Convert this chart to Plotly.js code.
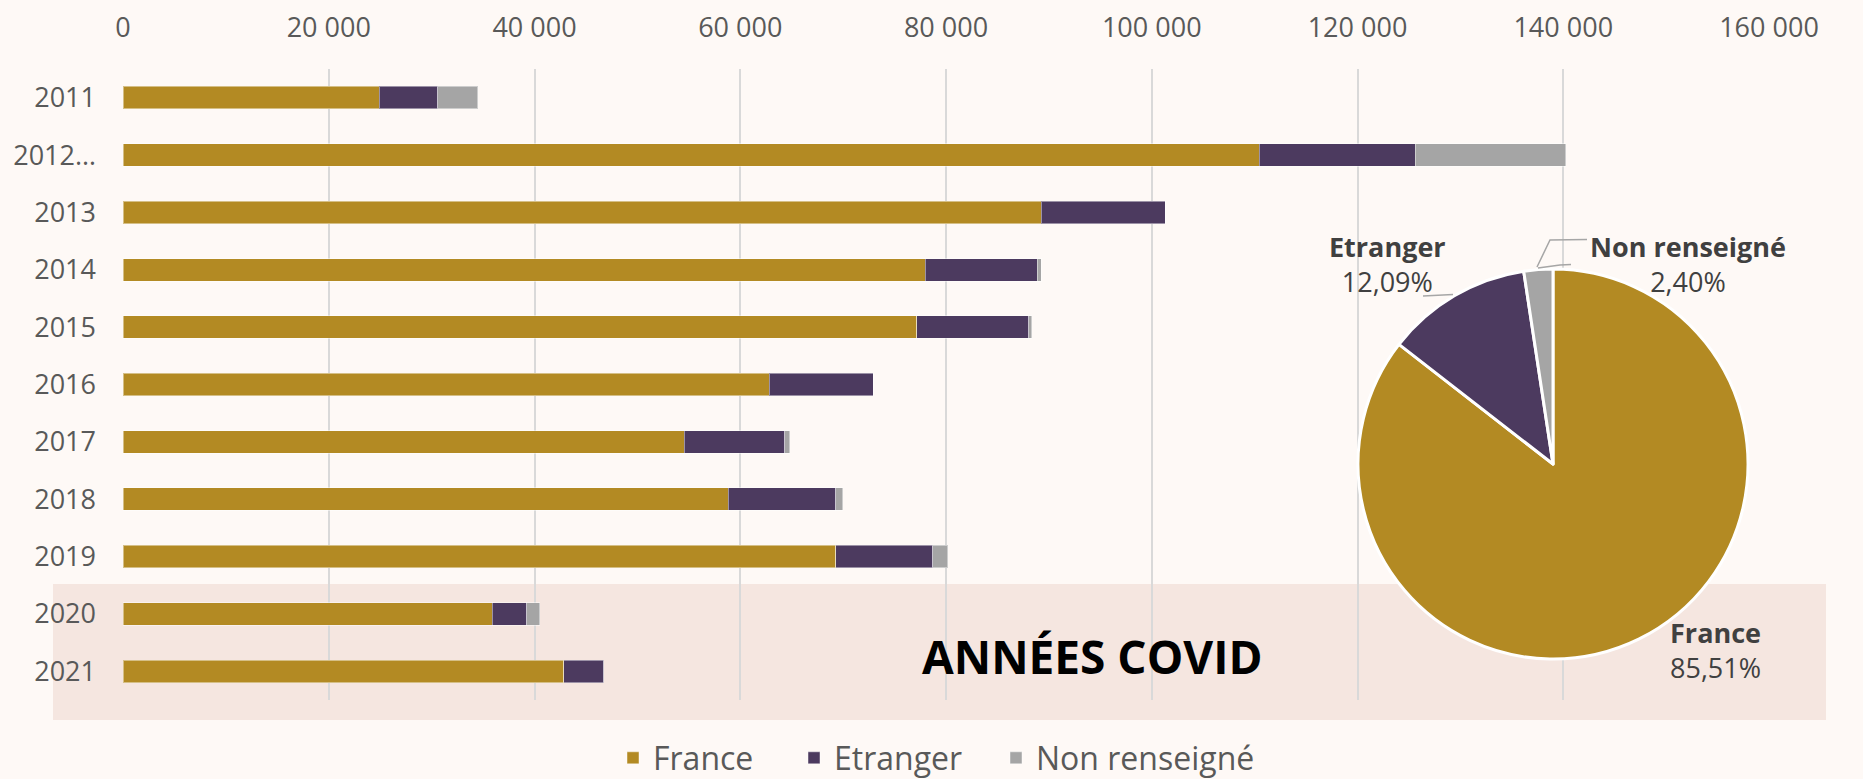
<!DOCTYPE html>
<html>
<head>
<meta charset="utf-8">
<script src="https://cdn.plot.ly/plotly-3.0.1.min.js"></script>
<style>
html,body{margin:0;padding:0;background:#FEF9F6;}
#chart{width:1863px;height:779px;}
</style>
</head>
<body>
<div id="chart"></div>
<script>
// ---- Data ----
const years = ['2011', '2012…', '2013', '2014', '2015', '2016', '2017', '2018', '2019', '2020', '2021'];
const france = [24900, 110450, 89240, 78000, 77160, 62840, 54540, 58810, 69290, 35890, 42830];
const etranger = [5700, 15150, 12090, 10890, 10880, 10110, 9790, 10480, 9420, 3340, 3900];
const nonRenseigne = [3900, 14650, 0, 350, 300, 0, 480, 650, 1460, 1300, 0];
const seriesNames = ['France', 'Etranger', 'Non renseigné'];
const piePct = [85.51, 12.09, 2.40];
const xTicks = [0, 20000, 40000, 60000, 80000, 100000, 120000, 140000, 160000];
const covidLabel = 'ANNÉES COVID';

// ---- Styles ----
const colors = ['#B38A23', '#4C3A5F', '#A5A5A5'];
const FONT = 'Open Sans, sans-serif';
const W = 1863, H = 779;
const M = {l: 123, r: 94, t: 69, b: 79, autoexpand: false};
const PW = W - M.l - M.r, PH = H - M.t - M.b;
const px = x => (x - M.l) / PW;          // pixel -> paper x
const py = y => (H - M.b - y) / PH;      // pixel -> paper y

const legendIds = ['legend', 'legend2', 'legend3'];
const barSeries = [france, etranger, nonRenseigne];
const traces = barSeries.map((vals, i) => ({
  type: 'bar',
  orientation: 'h',
  name: seriesNames[i],
  legend: legendIds[i],
  y: years,
  x: vals,
  marker: {color: colors[i], line: {color: 'rgba(255,255,255,0.45)', width: 1}},
  hoverinfo: 'x+name'
}));

// Pie
const pieCx = 1553, pieCy = 464, pieR = 195;
traces.push({
  type: 'pie',
  labels: seriesNames,
  values: piePct,
  sort: false,
  direction: 'clockwise',
  rotation: 0,
  textinfo: 'none',
  showlegend: false,
  marker: {colors: colors, line: {color: '#FFFFFF', width: 3}},
  domain: {x: [px(pieCx - pieR), px(pieCx + pieR)], y: [py(pieCy + pieR), py(pieCy - pieR)]}
});

const fmtPct = v => v.toFixed(2).replace('.', ',') + '%';
const pieLabelPos = [[1715, 650], [1387, 264], [1688, 264]];
const annotations = seriesNames.map((n, i) => ({
  xref: 'paper', yref: 'paper',
  x: px(pieLabelPos[i][0]), y: py(pieLabelPos[i][1]),
  xanchor: 'center', yanchor: 'middle',
  text: '<b>' + n + '</b><br>' + fmtPct(piePct[i]),
  showarrow: false,
  font: {family: FONT, size: 27, color: '#404040'}
}));
annotations.push({
  xref: 'paper', yref: 'paper',
  x: px(1092), y: py(656),
  xanchor: 'center', yanchor: 'middle',
  text: '<b>' + covidLabel + '</b>',
  showarrow: false,
  font: {family: FONT, size: 46, color: '#000000'}
});

const lineStyle = {color: '#A6A6A6', width: 1.5};
const shapes = [
  // COVID band
  {type: 'rect', xref: 'paper', yref: 'paper', layer: 'below',
   x0: px(53), x1: px(1826), y0: py(720), y1: py(584),
   fillcolor: '#F5E6E0', line: {width: 0}},
  // leader lines
  {type: 'path', xref: 'paper', yref: 'paper', layer: 'above',
   path: `M${px(1423)},${py(296)} L${px(1453)},${py(294.5)}`, line: lineStyle},
  {type: 'path', xref: 'paper', yref: 'paper', layer: 'above',
   path: `M${px(1587)},${py(239.5)} L${px(1550)},${py(240)} L${px(1537)},${py(267)}`, line: lineStyle},
  {type: 'path', xref: 'paper', yref: 'paper', layer: 'above',
   path: `M${px(1538)},${py(268)} L${px(1560)},${py(265)} L${px(1571)},${py(264.5)}`, line: lineStyle}
];

// legend positions (left edge of each legend box, pixels)
const legendX = [613, 794, 996];
const legendCommon = {
  orientation: 'h', xanchor: 'left', yanchor: 'middle',
  y: py(758),
  font: {family: FONT, size: 32, color: '#595959'},
  bgcolor: 'rgba(0,0,0,0)', borderwidth: 0
};

const layout = {
  width: W, height: H,
  margin: M,
  paper_bgcolor: '#FEF9F6',
  plot_bgcolor: 'rgba(0,0,0,0)',
  separators: ', ',
  barmode: 'stack',
  bargap: 0.608,
  font: {family: FONT, color: '#595959'},
  xaxis: {
    side: 'top',
    range: [0, 160000],
    tickvals: xTicks,
    tickformat: ',d',
    showgrid: true, gridcolor: '#D9D9D9', gridwidth: 2,
    zeroline: false, showline: false, ticks: '',
    ticklabelstandoff: 26,
    tickfont: {family: FONT, size: 27, color: '#595959'},
    fixedrange: true
  },
  yaxis: {
    type: 'category',
    autorange: 'reversed',
    showgrid: false, zeroline: false, showline: false, ticks: '',
    ticklabelstandoff: 26,
    tickfont: {family: FONT, size: 27, color: '#595959'},
    fixedrange: true
  },
  showlegend: true,
  legend: Object.assign({}, legendCommon, {x: px(legendX[0])}),
  legend2: Object.assign({}, legendCommon, {x: px(legendX[1])}),
  legend3: Object.assign({}, legendCommon, {x: px(legendX[2])}),
  annotations: annotations,
  shapes: shapes
};

Plotly.newPlot('chart', traces, layout, {displayModeBar: false, staticPlot: true});
</script>
</body>
</html>
